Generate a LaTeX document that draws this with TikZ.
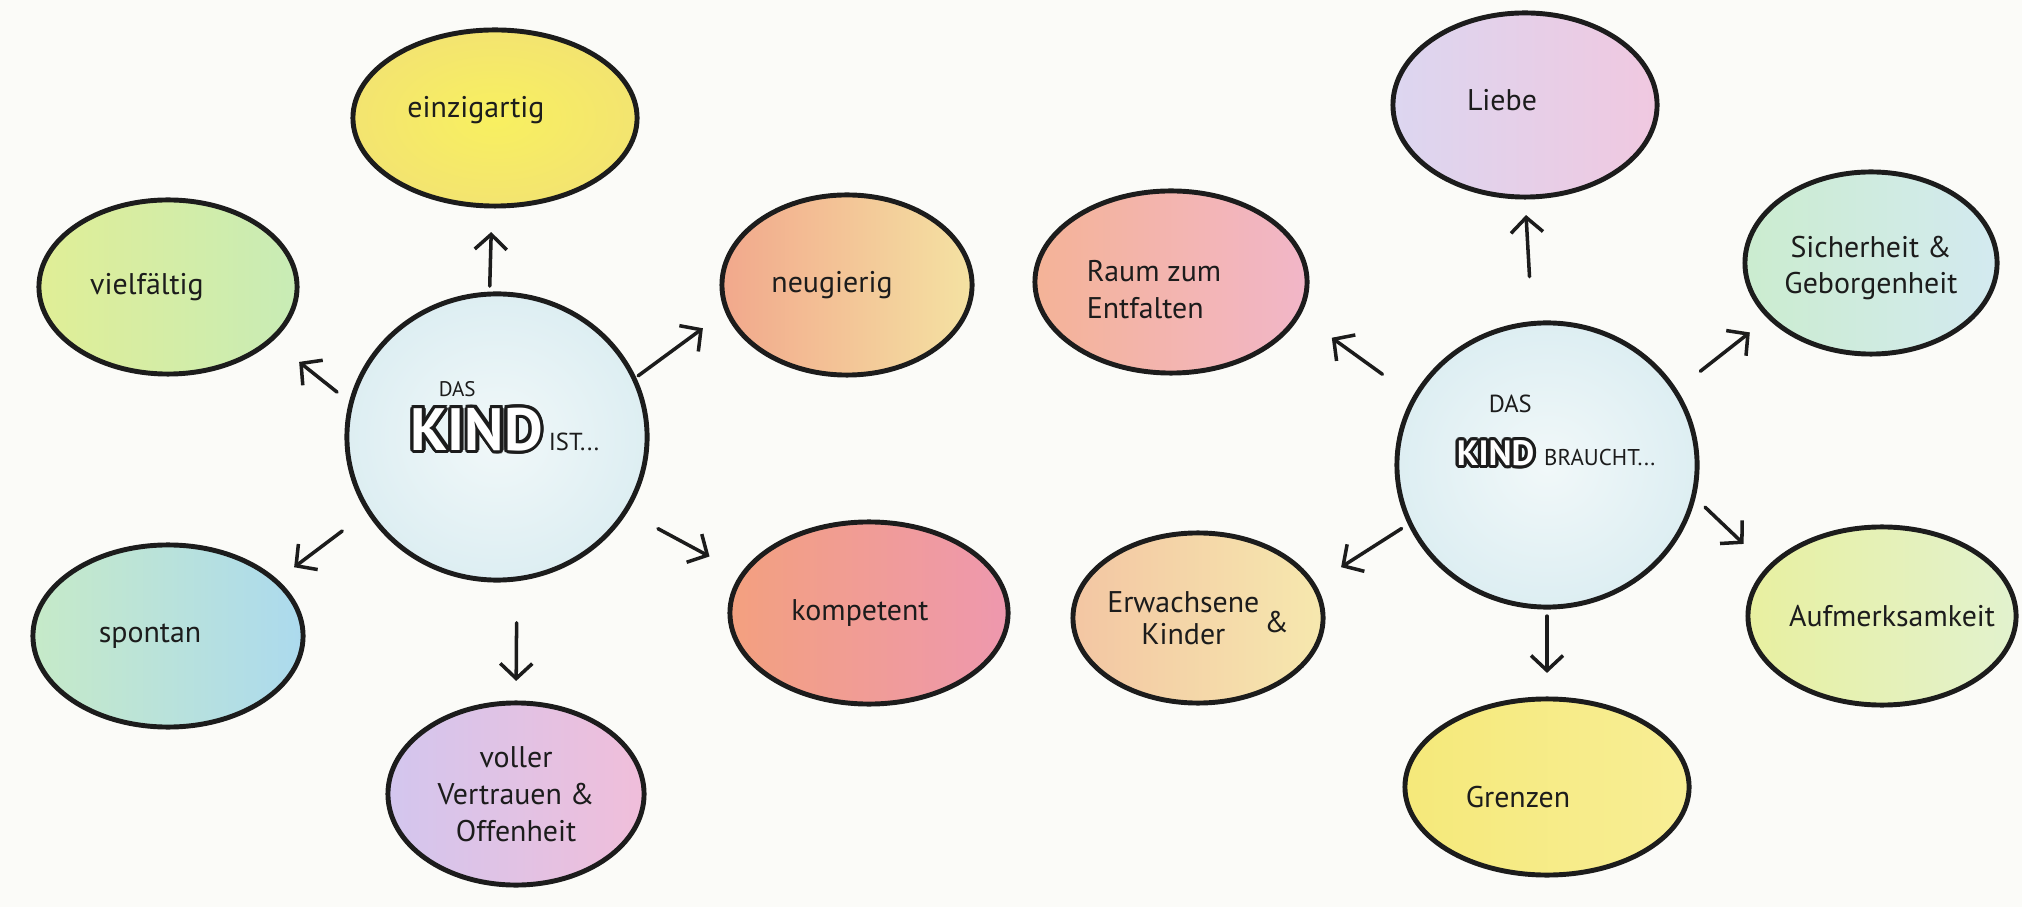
\documentclass[tikz,border=0pt]{standalone}
\usepackage{fontspec}
\setmainfont{PT Sans}
\usepackage{contour}
\usetikzlibrary{shapes.geometric,arrows.meta}

\definecolor{paper}{HTML}{FBFBF8}
\definecolor{ink}{HTML}{1C1C1C}
\definecolor{hubin}{HTML}{F1F8F9}
\definecolor{hubout}{HTML}{DDEEF2}

\newcommand{\kindword}[1]{{\bfseries\contourlength{0.9pt}\color{white}\contour{ink}{#1}}}
\newcommand{\smallcaps}[2]{{\fontsize{#1}{#1}\selectfont #2}}

\begin{document}
\begin{tikzpicture}[x=0.01cm,y=-0.01cm,
  bubble/.style={ellipse, draw=ink, line width=1.4pt, inner sep=0pt, outer sep=0pt},
  bsize/.style 2 args={minimum width=#1, minimum height=#2},
  word/.style={align=center, inner sep=0pt, text=ink, font=\fontsize{8.5}{10.5}\selectfont},
  hub/.style={bubble, inner color=hubin, outer color=hubout},
  arr/.style={draw=ink, line width=1pt, line cap=round,
    -{Straight Barb[length=0.15cm,width=0.32cm,line width=1pt]}},
  hubtext/.style={align=left, inner sep=0pt, text=ink}
]
\useasboundingbox (0,0) rectangle (2022,907);
\fill[paper] (0,0) rectangle (2022,907);

% das Kind ist ...
\node[hub, bsize={3.00cm}{2.86cm}] (kindist) at (497,437) {};
\node[hubtext] (istlabel) at (505,418)
  {\hspace*{0.28cm}\smallcaps{6}{DAS}\\[2pt]\kindword{\fontsize{17}{17}\selectfont KIND}\,\smallcaps{7}{IST...}};

\node[bubble, bsize={2.84cm}{1.76cm}, inner color={rgb,255:red,248;green,240;blue,96}, outer color={rgb,255:red,243;green,228;blue,112},
  label={[word, xshift=-0.19cm, yshift=0.08cm]center:einzigartig}] (einzig) at (495,118) {};
\node[bubble, bsize={2.58cm}{1.74cm}, left color={rgb,255:red,224;green,238;blue,150}, right color={rgb,255:red,200;green,236;blue,182},
  label={[word, xshift=-0.21cm]center:vielfältig}] (vielf) at (168,287) {};
\node[bubble, bsize={2.50cm}{1.80cm}, left color={rgb,255:red,242;green,168;blue,140}, middle color={rgb,255:red,246;green,193;blue,126}, right color={rgb,255:red,244;green,226;blue,162},
  label={[word, xshift=-0.15cm]center:neugierig}] (neug) at (847,285) {};
\node[bubble, bsize={2.70cm}{1.82cm}, left color={rgb,255:red,198;green,234;blue,200}, middle color={rgb,255:red,188;green,227;blue,234}, right color={rgb,255:red,172;green,218;blue,238},
  label={[word, xshift=-0.18cm]center:spontan}] (spont) at (168,636) {};
\node[bubble, bsize={2.78cm}{1.82cm}, left color={rgb,255:red,243;green,160;blue,127}, middle color={rgb,255:red,239;green,128;blue,147}, right color={rgb,255:red,238;green,152;blue,174},
  label={[word, xshift=-0.09cm]center:kompetent}] (komp) at (869,613) {};
\node[bubble, bsize={2.56cm}{1.82cm}, left color={rgb,255:red,211;green,198;blue,238}, middle color={rgb,255:red,237;green,180;blue,214}, right color={rgb,255:red,240;green,190;blue,218},
  label={[word]center:{voller\\Vertrauen \&\\Offenheit}}] (voll) at (516,794) {};

\draw[arr, shorten <=0.08cm, shorten >=0.26cm] (kindist.93) -- (einzig.-92);
\draw[arr, shorten <=0.18cm, shorten >=0.36cm] (kindist.167) -- (vielf.-27);
\draw[arr, shorten <=0.05cm, shorten >=0.30cm] (kindist.23) -- (neug.192);
\draw[arr, shorten <=0.33cm, shorten >=0.23cm] (kindist.210) -- (spont.27);
\draw[arr, shorten <=0.37cm, shorten >=0.38cm] (kindist.-30) -- (komp.163);
\draw[arr, shorten <=0.44cm, shorten >=0.22cm] (kindist.-82) -- (voll.north);

% das Kind braucht ...
\node[hub, bsize={3.00cm}{2.84cm}] (kindbraucht) at (1547,465) {};
\node[hubtext] (brauchtlabel) at (1556,432)
  {\hspace*{0.32cm}\smallcaps{7}{DAS}\\[3pt]\kindword{\fontsize{10}{10}\selectfont KIND}\;\smallcaps{6.5}{BRAUCHT...}};

\node[bubble, bsize={2.64cm}{1.84cm}, left color={rgb,255:red,220;green,214;blue,240}, middle color={rgb,255:red,238;green,195;blue,224}, right color={rgb,255:red,240;green,200;blue,224},
  label={[word, xshift=-0.23cm, yshift=0.05cm]center:Liebe}] (liebe) at (1525,105) {};
\node[bubble, bsize={2.72cm}{1.82cm}, left color={rgb,255:red,244;green,179;blue,151}, middle color={rgb,255:red,241;green,163;blue,187}, right color={rgb,255:red,242;green,182;blue,200},
  label={[word, align=left, xshift=-0.17cm, yshift=-0.08cm]center:{Raum zum\\Entfalten}}] (raum) at (1171,282) {};
\node[bubble, bsize={2.52cm}{1.82cm}, left color={rgb,255:red,203;green,236;blue,207}, middle color={rgb,255:red,205;green,232;blue,238}, right color={rgb,255:red,211;green,234;blue,240},
  label={[word, yshift=-0.05cm]center:{Sicherheit \&\\Geborgenheit}}] (sicher) at (1871,263) {};
\node[bubble, bsize={2.50cm}{1.70cm}, left color={rgb,255:red,243;green,198;blue,163}, middle color={rgb,255:red,245;green,226;blue,160}, right color={rgb,255:red,246;green,232;blue,174},
  label={[word]center:{\shortstack{Erwachsene\\Kinder}\,\raisebox{0.4em}{\&}}}] (erw) at (1198,618) {};
\node[bubble, bsize={2.68cm}{1.78cm}, left color={rgb,255:red,232;green,240;blue,160}, middle color={rgb,255:red,221;green,240;blue,192}, right color={rgb,255:red,226;green,242;blue,206},
  label={[word, xshift=0.1cm]center:Aufmerksamkeit}] (aufm) at (1882,616) {};
\node[bubble, bsize={2.84cm}{1.76cm}, left color={rgb,255:red,245;green,233;blue,122}, right color={rgb,255:red,248;green,238;blue,149},
  label={[word, xshift=-0.29cm, yshift=-0.1cm]center:Grenzen}] (grenzen) at (1547,787) {};

\draw[arr, shorten <=0.47cm, shorten >=0.18cm] (kindbraucht.96) -- (liebe.south);
\draw[arr, shorten <=0.40cm, shorten >=0.41cm] (kindbraucht.153) -- (raum.-14);
\draw[arr, shorten <=0.32cm, shorten >=0.25cm] (kindbraucht.30) -- (sicher.208);
\draw[arr, shorten <=0.10cm, shorten >=0.33cm] (kindbraucht.203) -- (erw.16);
\draw[arr, shorten <=0.16cm, shorten >=0.35cm] (kindbraucht.-12) -- (aufm.157);
\draw[arr, shorten <=0.09cm, shorten >=0.26cm] (kindbraucht.south) -- (grenzen.north);
\end{tikzpicture}
\end{document}
